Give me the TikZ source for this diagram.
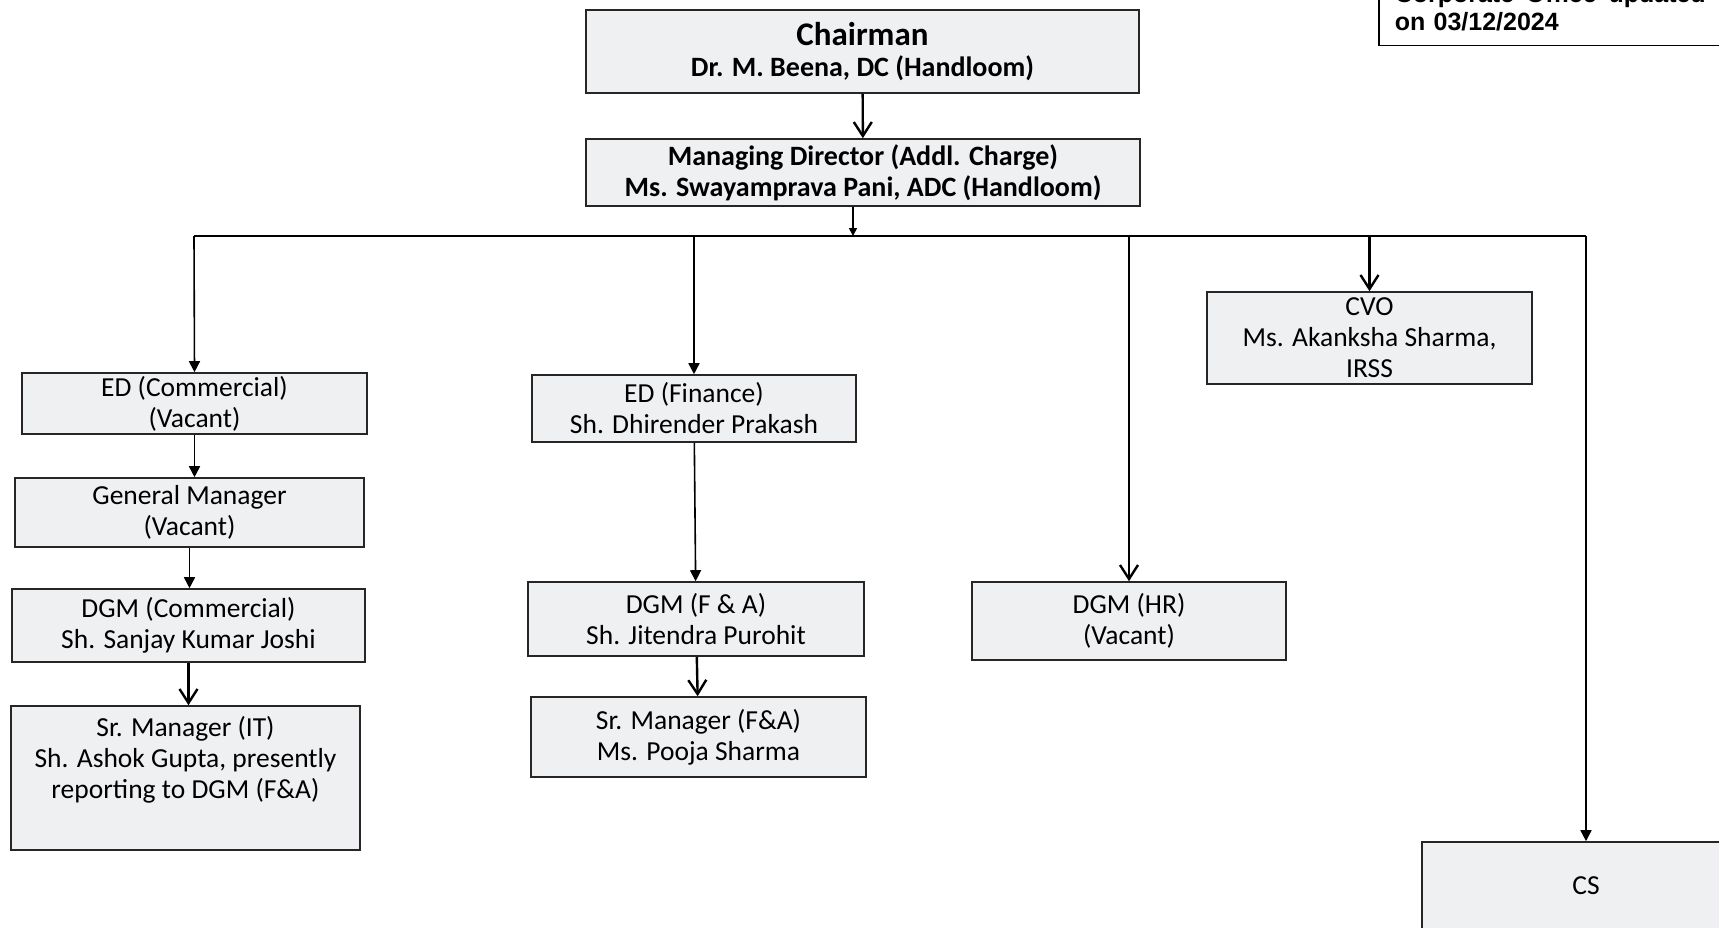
\documentclass[tikz,border=0pt]{standalone}
\usepackage{fontspec}
\setmainfont{Carlito}
\newfontfamily\notefont{Liberation Sans}
\usetikzlibrary{arrows.meta}
\definecolor{boxfill}{RGB}{238,240,242}
\tikzset{
  post/.style={draw=black!85,line width=1.6pt,fill=boxfill,align=center,inner sep=0pt,font=\fontsize{27.5}{31}\selectfont},
  head/.style={post,font=\bfseries\fontsize{28}{31}\selectfont},
  tri/.style={line width=1.6pt,-{Triangle[length=11pt,width=11pt]}},
  vee/.style={line width=2.4pt,-{Straight Barb[length=14pt,width=18pt]}},
}
\begin{document}
\begin{tikzpicture}[x=1pt,y=-1pt]
  \useasboundingbox (0,0) rectangle (1719,927);
  \node[draw,line width=1.5pt,fill=white,anchor=south west,text width=311pt,align=left,inner xsep=16pt,inner ysep=14pt,font=\notefont\bfseries\fontsize{25}{28}\selectfont](note) at (1378,46){Corporate\hfill Office\hfill updated\\on 03/12/2024\hspace*{\fill}};
  \node[head,minimum width=553,minimum height=83](chair) at (862.5,51.5){{\fontsize{33}{35}\selectfont Chairman}\\Dr. M. Beena, DC (Handloom)};
  \node[head,minimum width=554,minimum height=67](md) at (863,172.5){Managing Director (Addl. Charge)\\Ms. Swayamprava Pani, ADC (Handloom)};
  \node[post,minimum width=345,minimum height=61](edc) at (194.5,403.5){ED (Commercial)\\(Vacant)};
  \node[post,minimum width=349,minimum height=69](gm) at (189.5,512.5){General Manager\\(Vacant)};
  \node[post,minimum width=353,minimum height=73](dgmc) at (188.5,625.5){DGM (Commercial)\\Sh. Sanjay Kumar Joshi};
  \node[post,minimum width=349,minimum height=144](srit) at (185.5,778){Sr. Manager (IT)\\Sh. Ashok Gupta, presently\\reporting to DGM (F\&A)\\ \strut};
  \node[post,minimum width=324,minimum height=67](edf) at (694,408.5){ED (Finance)\\Sh. Dhirender Prakash};
  \node[post,minimum width=336,minimum height=74](dgmfa) at (696,619){DGM (F \& A)\\Sh. Jitendra Purohit};
  \node[post,minimum width=335,minimum height=80](srfa) at (698.5,737){Sr. Manager (F\&A)\\Ms. Pooja Sharma};
  \node[post,minimum width=314,minimum height=78](dgmhr) at (1129,621){DGM (HR)\\(Vacant)};
  \node[post,minimum width=325,minimum height=92](cvo) at (1369.5,338){CVO\\Ms. Akanksha Sharma,\\IRSS};
  \node[post,minimum width=328,minimum height=88](cs) at (1586,886){CS};
  \coordinate(bus) at (853,236);
  \coordinate(busl) at (194,236);
  \coordinate(busr) at (1586,236);
  \draw[vee](chair)--(md);
  \draw[line width=1.6pt,-{Triangle[length=8pt,width=8pt]}](md.south -| bus)--(bus);
  \draw[line width=1.8pt](busl)--(busr);
  \draw[tri](busl)--(edc.north);
  \draw[tri](edf.north |- busl)--(edf.north);
  \draw[vee](dgmhr.north |- busl)--(dgmhr.north);
  \draw[vee](cvo.north |- busl)--(cvo.north);
  \draw[tri](busr)--(cs.north);
  \draw[tri](edc.south)--(edc.south |- gm.north);
  \draw[tri](gm.south)--(gm.south |- dgmc.north);
  \draw[tri](edf)--(dgmfa);
  \draw[vee](dgmc.south)--(dgmc.south |- srit.north);
  \draw[vee](dgmfa)--(srfa);
\end{tikzpicture}
\end{document}
